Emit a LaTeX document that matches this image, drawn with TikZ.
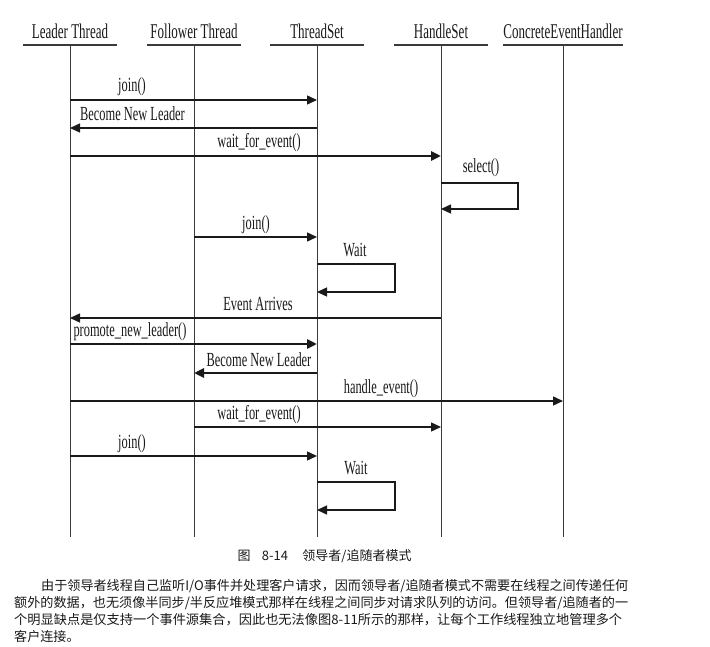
\documentclass[tikz,border=0pt]{standalone}
\usepackage{fontspec}
\usepackage{graphicx}
\setmainfont{Liberation Serif}
\newfontfamily\cjk{Noto Sans CJK SC}
\usetikzlibrary{arrows.meta}
\definecolor{ink}{HTML}{1A1A1A}
\definecolor{lifegray}{HTML}{3A3A3A}
\newcommand{\cnd}[1]{\scalebox{0.62}[1]{#1}}
\tikzset{
  hdr/.style={anchor=south, minimum width=93pt, inner xsep=0pt, inner ysep=6pt, text depth=0pt,
              font=\fontsize{21}{23}\selectfont, text=ink},
  ul/.style={line width=2.2pt, draw=lifegray},
  life/.style={line width=1pt, draw=lifegray},
  lbl/.style={anchor=base, inner sep=0pt, font=\fontsize{20}{22}\selectfont, text=ink},
  msg/.style={line width=1.4pt, draw=ink, -{Triangle[length=10pt,width=9pt]}},
  msgthick/.style={msg, line width=2.9pt},
  cjktext/.style={inner sep=0pt, font=\cjk\fontsize{13.1}{15}\selectfont, text=ink}
}
\begin{document}
\begin{tikzpicture}[x=1pt,y=-1pt]
\useasboundingbox (0,0) rectangle (710,647);
\fill[white] (0,0) rectangle (710,647);

% headers
\node[hdr] (L) at (70,45)  {\cnd{Leader Thread}};
\node[hdr] (F) at (194,45) {\cnd{Follower Thread}};
\node[hdr] (T) at (317,45) {\cnd{ThreadSet}};
\node[hdr] (H) at (441,45) {\cnd{HandleSet}};
\node[hdr] (C) at (563,45) {\cnd{ConcreteEventHandler}};
\coordinate (bot) at (0,537);
\foreach \n in {L,F,T,H,C}{
  \draw[ul] (\n.south west) -- (\n.south east);
  \draw[life] (\n.south) -- (\n.south |- bot);
}

% messages
\draw[msg] (L.south |- 0,100) -- (T.south |- 0,100);
\node[lbl] (m1) at (132,92) {\cnd{join()}};

\draw[msg] (T.south |- 0,128) -- (L.south |- 0,128);
\node[lbl, anchor=base west] (m2) at (80,121) {\cnd{Become New Leader}};

\draw[msgthick] (L.south |- 0,156) -- (H.south |- 0,156);
\node[lbl] (m3) at (259,148) {\cnd{wait\_for\_event()}};

\draw[msg] (H.south |- 0,183) -- (518,183) -- (518,209) -- (H.south |- 0,209);
\node[lbl] (m4) at (481,173) {\cnd{select()}};

\draw[msg] (F.south |- 0,237) -- (T.south |- 0,237);
\node[lbl] (m5) at (256,230) {\cnd{join()}};

\draw[msg] (T.south |- 0,264) -- (395,264) -- (395,292) -- (T.south |- 0,292);
\node[lbl] (m6) at (355,257) {\cnd{Wait}};

\draw[msg] (H.south |- 0,318) -- (L.south |- 0,318);
\node[lbl] (m7) at (258,310) {\cnd{Event Arrives}};

\draw[msgthick] (L.south |- 0,344) -- (T.south |- 0,344);
\node[lbl] (m8) at (130,336) {\cnd{promote\_new\_leader()}};

\draw[msgthick] (T.south |- 0,373) -- (F.south |- 0,373);
\node[lbl] (m9) at (259,366) {\cnd{Become New Leader}};

\draw[msg] (L.south |- 0,401) -- (C.south |- 0,401);
\node[lbl] (m10) at (381,393) {\cnd{handle\_event()}};

\draw[msg] (F.south |- 0,427) -- (H.south |- 0,427);
\node[lbl] (m11) at (259,419) {\cnd{wait\_for\_event()}};

\draw[msg] (L.south |- 0,456) -- (T.south |- 0,456);
\node[lbl] (m12) at (132,448) {\cnd{join()}};

\draw[line width=2.9pt, draw=ink] (T.south |- 0,482) -- (395,482);
\draw[msg] (395,481) -- (395,510) -- (T.south |- 0,510);
\node[lbl] (m13) at (356,474) {\cnd{Wait}};

% caption
\node[cjktext, font=\cjk\fontsize{13}{15}\selectfont] (cap1) at (244,556) {图};
\node[cjktext, font=\cjk\fontsize{13}{15}\selectfont] (cap2) at (275,556) {8-14};
\node[cjktext, font=\cjk\fontsize{13}{15}\selectfont] (cap3) at (357,556) {领导者/追随者模式};

% paragraph
\node[cjktext, anchor=west] (p1) at (41,586) {\resizebox{587pt}{\height}{由于领导者线程自己监听I/O事件并处理客户请求，因而领导者/追随者模式不需要在线程之间传递任何}};
\node[cjktext, anchor=west] (p2) at (14,603) {\resizebox{614pt}{\height}{额外的数据，也无须像半同步/半反应堆模式那样在线程之间同步对请求队列的访问。但领导者/追随者的一}};
\node[cjktext, anchor=west] (p3) at (14,620) {\resizebox{608pt}{\height}{个明显缺点是仅支持一个事件源集合，因此也无法像图8-11所示的那样，让每个工作线程独立地管理多个}};
\node[cjktext, anchor=west] (p4) at (14,636) {客户连接。};
\end{tikzpicture}
\end{document}
